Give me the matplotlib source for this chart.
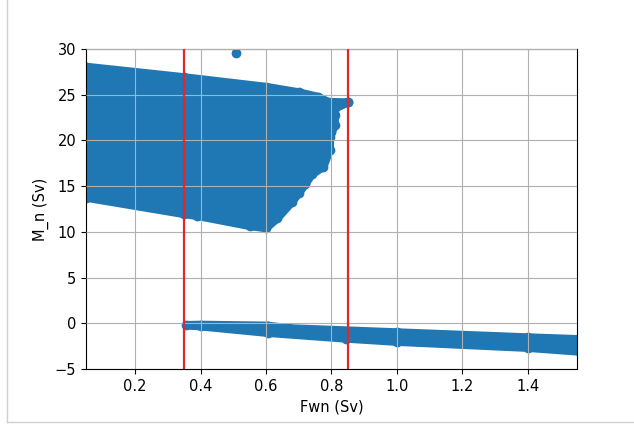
import matplotlib
matplotlib.use("Agg")
import matplotlib.pyplot as plt
from matplotlib.lines import Line2D

# outline of the upper cloud of points (marker centres)
upper_x = [0.05, 0.35, 0.60, 0.70, 0.76, 0.79, 0.85,
           0.81, 0.81, 0.795, 0.795, 0.775, 0.74, 0.72, 0.68, 0.635, 0.60,
           0.55, 0.39, 0.35, 0.05]
upper_y = [28.05, 26.9, 25.85, 25.25, 24.75, 24.2, 24.15,
           23.5, 21.7, 20.4, 19.0, 17.1, 16.3, 15.2, 13.3, 11.5, 10.4,
           10.65, 11.75, 11.95, 13.75]

# outline of the lower branch (marker centres)
lower_x = [0.357, 0.40, 0.605, 0.67, 1.00, 1.40, 1.56,
           1.56, 1.40, 1.00, 0.845, 0.605, 0.40]
lower_y = [-0.20, -0.17, -0.27, -0.55, -1.00, -1.55, -1.75,
           -3.10, -2.68, -2.02, -1.67, -1.04, -0.33]

# single loose points
extra_x = [0.508, 0.85, 0.81, 0.80, 0.775, 0.70]
extra_y = [29.6, 24.15, 22.8, 20.9, 18.2, 14.2]

fwn_limits = [0.35, 0.85]

azul = "#1f77b4"
fig = plt.figure(figsize=(6.34, 4.25), dpi=100)
ax = fig.add_axes([86 / 634, 1 - 369 / 425, 491 / 634, 320 / 425])

for xs, ys in [(upper_x, upper_y), (lower_x, lower_y)]:
    ax.fill(xs, ys, facecolor=azul, edgecolor=azul, lw=6, joinstyle="round", zorder=1)
    ax.scatter(xs, ys, s=36, color=azul, zorder=1)
ax.scatter(extra_x, extra_y, s=36, color=azul, zorder=1)

for xv in fwn_limits:
    ax.axvline(xv, color="#e3262a", lw=1.6, zorder=3)

ax.set_xlim(0.05, 1.55)
ax.set_ylim(-5, 30)
ax.set_xticks([0.2, 0.4, 0.6, 0.8, 1.0, 1.2, 1.4])
ax.set_axisbelow(False)
ax.grid(True, color="#b0b0b0", lw=0.8)
ax.tick_params(labelsize=10.5)
ax.set_xlabel("Fwn (Sv)", fontsize=10.5)
ax.set_ylabel("M_n (Sv)", fontsize=10.5)

# moldura cinza do notebook
fig.add_artist(Line2D([7 / 634, 7 / 634], [1 - 422 / 425, 1], color="#d0d0d0", lw=1))
fig.add_artist(Line2D([7 / 634, 1], [1 - 422 / 425, 1 - 422 / 425], color="#d0d0d0", lw=1))

fig.savefig("out.png", dpi=100)
